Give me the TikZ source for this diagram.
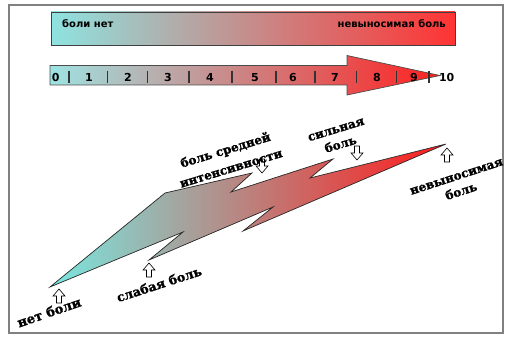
\documentclass[tikz,border=0pt]{standalone}
\usepackage{fontspec}
\setmainfont{DejaVu Sans}
\newfontfamily\barfont{DejaVu Sans}
\newfontfamily\lblfont[BoldFeatures={FakeBold=1.6}]{DejaVu Serif}
\definecolor{framecol}{HTML}{808080}
\definecolor{cyanA}{HTML}{8EE3E0}
\definecolor{midA}{HTML}{CFC2C2}
\definecolor{redA}{HTML}{FF3333}
\definecolor{cyanB}{HTML}{9EE3E3}
\definecolor{midB}{HTML}{C9B9BB}
\definecolor{redB}{HTML}{FF2020}
\definecolor{cyanC}{HTML}{78E8E0}
\definecolor{midC}{HTML}{BDB8B8}
\definecolor{redC}{HTML}{FF1A1A}
\begin{document}
\begin{tikzpicture}[x=1pt,y=-1pt,
  barlbl/.style={font=\barfont\bfseries\fontsize{10}{12}\selectfont, inner sep=0pt},
  digit/.style={font=\barfont\bfseries\fontsize{11}{12}\selectfont, inner sep=0pt},
  tick/.style={line width=1.4pt, draw=black!80},
  lbl/.style={font=\lblfont\bfseries\fontsize{12}{16}\selectfont, inner sep=0pt, align=center},
  hollow/.style={draw=black, fill=white, line width=0.6pt},
  uparr/.pic={\path[hollow] (-2.5,0) -- (-2.5,-7) -- (-6,-7) -- (0,-14) -- (6,-7) -- (2.5,-7) -- (2.5,0) -- cycle;},
  downarr/.pic={\path[hollow] (-2.5,0) -- (-2.5,7) -- (-6,7) -- (0,14) -- (6,7) -- (2.5,7) -- (2.5,0) -- cycle;}
]
\useasboundingbox (0,0) rectangle (513,339);
\draw[framecol, line width=1.5pt] (9,5) rectangle (503,333);

% top bar
\shadedraw[left color=cyanA, middle color=midA, right color=redA, draw=black!75, line width=0.8pt]
  (51,12) rectangle (455,45);
\node[barlbl, anchor=west] (nopain) at (62,24) {боли нет};
\node[barlbl, anchor=east] (worst) at (446,24) {невыносимая боль};

% scale arrow
\shadedraw[left color=cyanB, middle color=midB, right color=redB, draw=black!70, line width=0.7pt]
  (50,65.5) -- (347,65.5) -- (347,55.5) -- (440,75.5) -- (347,95) -- (347,85) -- (50,85) -- cycle;
\foreach \x in {69,107.7,147.7,189,232,276,315,356.7,396.7,429}
  \draw[tick] (\x,70.7) -- (\x,83.3);
\foreach \x/\d in {55.7/0,89/1,128/2,168/3,210/4,255/5,293/6,335/7,377/8,414/9,446.7/10}
  \node[digit] (d\d) at (\x,77.5) {\d};

% lightning bolt
\shadedraw[left color=cyanC, middle color=midC, right color=redC, draw=black!85, line width=0.7pt]
  (50,287) -- (165,193) -- (252,173) -- (231,192) -- (333,159) -- (310,178) -- (446,144)
  -- (243,231) -- (273,207) -- (149,260) -- (183,232) -- cycle;

% hollow arrows
\pic at (59,303) {uparr};
\pic at (149,277) {uparr};
\pic at (262,159) {downarr};
\pic at (357,146) {downarr};
\pic at (447,162) {uparr};

% labels
\node[lbl, rotate=19, font=\lblfont\bfseries\fontsize{13}{16}\selectfont] (l0) at (49,312) {нет боли};
\node[lbl, rotate=18, font=\lblfont\bfseries\fontsize{12.5}{16}\selectfont] (l1) at (159,284) {слабая боль};
\node[lbl, rotate=17, font=\lblfont\bfseries\fontsize{12}{19}\selectfont] (l2) at (228,158.5) {боль средней\\интенсивности};
\node[lbl, rotate=17] (l3) at (338.5,137.5) {сильная\\боль};
\node[lbl, rotate=18] (l4) at (459,184.5) {невыносимая\\боль};
\end{tikzpicture}
\end{document}
